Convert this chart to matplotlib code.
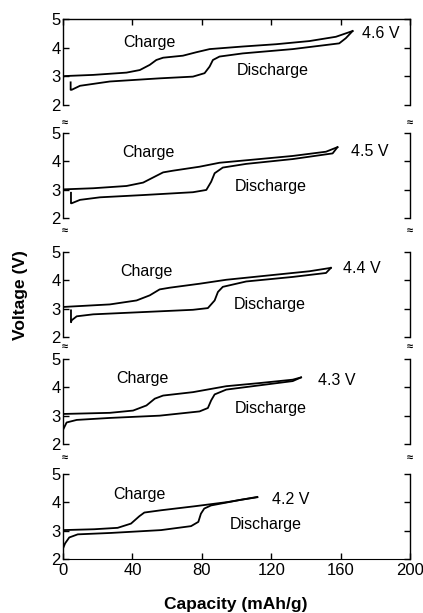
import matplotlib
matplotlib.use("Agg")
import matplotlib.pyplot as plt

plt.rcParams['font.family'] = ['Liberation Sans', 'DejaVu Sans']

# ---------------- data ----------------
cutoff_labels = ["4.6 V", "4.5 V", "4.4 V", "4.3 V", "4.2 V"]

# 4.6 V
charge_cap_46 = [0, 1.1, 17.4, 36.6, 44.3, 50, 53.8, 57.7, 69.1, 76.8, 84.5, 103.6, 122.8, 142, 157.3, 166.9]
charge_v_46   = [2.99, 3.01, 3.05, 3.13, 3.22, 3.40, 3.57, 3.65, 3.72, 3.84, 3.95, 4.04, 4.12, 4.23, 4.38, 4.58]
dis_cap_46 = [166.9, 163, 159.2, 132.4, 103.6, 90.2, 86.4, 84.5, 81.6, 74.9, 55.7, 27, 9.8, 5, 4.4, 4.4]
dis_v_46   = [4.58, 4.33, 4.15, 3.95, 3.80, 3.69, 3.57, 3.34, 3.11, 2.99, 2.93, 2.82, 2.67, 2.53, 2.53, 2.79]

# 4.5 V
charge_cap_45 = [0, 17.4, 36.6, 46.2, 52.9, 57.7, 63.4, 78.7, 90.2, 113.2, 132.4, 151.6, 158.2]
charge_v_45   = [3.01, 3.05, 3.13, 3.25, 3.46, 3.61, 3.67, 3.81, 3.95, 4.08, 4.19, 4.34, 4.50]
dis_cap_45 = [158.2, 155.4, 132.4, 105.6, 92.1, 87.4, 85.4, 82.6, 74.9, 46.2, 21.3, 9.8, 5, 4.6, 4.6]
dis_v_45   = [4.50, 4.28, 4.08, 3.91, 3.78, 3.58, 3.28, 2.99, 2.91, 2.81, 2.73, 2.64, 2.52, 2.52, 2.89]

# 4.4 V
charge_cap_44 = [0, 27, 42.4, 50, 55.7, 61.5, 78.7, 94.1, 122.8, 142, 154.4]
charge_v_44   = [3.06, 3.15, 3.29, 3.47, 3.68, 3.74, 3.88, 4.02, 4.20, 4.32, 4.44]
dis_cap_44 = [154.4, 151.6, 132.4, 105.6, 92.1, 89.3, 87.4, 83.5, 74.9, 46.2, 17.4, 7.9, 5, 4.6, 4.6]
dis_v_44   = [4.44, 4.26, 4.12, 3.96, 3.77, 3.59, 3.29, 3.02, 2.96, 2.88, 2.80, 2.73, 2.59, 2.52, 2.94]

# 4.3 V
charge_cap_43 = [0, 27, 40.4, 48.1, 52.9, 57.7, 74.9, 94.1, 113.2, 132.4, 137.2]
charge_v_43   = [3.06, 3.10, 3.18, 3.36, 3.60, 3.71, 3.83, 4.04, 4.15, 4.27, 4.35]
dis_cap_43 = [137.2, 132.4, 113.2, 94.1, 87.4, 85.4, 83.5, 78.7, 55.7, 27, 7.9, 2.1, 0]
dis_v_43   = [4.35, 4.22, 4.07, 3.92, 3.75, 3.54, 3.27, 3.15, 3.00, 2.92, 2.85, 2.76, 2.50]

# 4.2 V
charge_cap_42 = [0, 18, 31.5, 39.2, 44, 46.9, 56.5, 75.7, 94.9, 112]
charge_v_42   = [3.02, 3.05, 3.10, 3.25, 3.51, 3.64, 3.72, 3.86, 4.01, 4.19]
dis_cap_42 = [112, 102.6, 85.3, 81.4, 79.5, 78, 73.8, 56.5, 27.7, 8.5, 3.6, 1.2, 0.2]
dis_v_42   = [4.18, 4.09, 3.89, 3.78, 3.60, 3.31, 3.16, 3.02, 2.92, 2.87, 2.76, 2.55, 2.40]

charge_caps = [charge_cap_46, charge_cap_45, charge_cap_44, charge_cap_43, charge_cap_42]
charge_vs = [charge_v_46, charge_v_45, charge_v_44, charge_v_43, charge_v_42]
dis_caps = [dis_cap_46, dis_cap_45, dis_cap_44, dis_cap_43, dis_cap_42]
dis_vs = [dis_v_46, dis_v_45, dis_v_44, dis_v_43, dis_v_42]

x_ticks = [0, 40, 80, 120, 160, 200]
y_ticks = [2, 3, 4, 5]

# ---------------- layout ----------------
W, H = 423, 613
fig = plt.figure(figsize=(W / 100, H / 100), dpi=100)

panel_px = [(19, 105), (133, 218), (252, 337), (359, 444), (474, 559)]
left_px, right_px = 63, 410

# label positions (data coords) per panel
charge_pos = [(50, 4.17), (49, 4.31), (48, 4.30), (46, 4.32), (44, 4.29)]
dis_pos = [(121, 3.22), (120, 3.10), (119, 3.16), (120, 3.24), (117, 3.20)]
cut_pos = [(183, 4.51), (177, 4.34), (172, 4.42), (158, 4.23), (131, 4.10)]

for i, (top, bot) in enumerate(panel_px):
    ax = fig.add_axes([left_px / W, 1 - bot / H, (right_px - left_px) / W, (bot - top) / H])
    ax.plot(charge_caps[i], charge_vs[i], color='black', lw=1.3, solid_joinstyle='round')
    ax.plot(dis_caps[i], dis_vs[i], color='black', lw=1.3, solid_joinstyle='round')
    ax.set_xlim(0, 200)
    ax.set_ylim(2, 5)
    ax.set_yticks(y_ticks)
    ax.tick_params(axis='y', direction='in', left=True, right=True, length=4.5, width=1.0,
                   labelsize=12, pad=1.5)
    for s in ['left', 'right']:
        ax.spines[s].set_linewidth(1.0)
    ax.spines['top'].set_visible(i == 0)
    ax.spines['bottom'].set_visible(i == 4)
    ax.spines['top'].set_linewidth(1.0)
    ax.spines['bottom'].set_linewidth(0.8)
    ax.set_xticks(x_ticks)
    if i == 0:
        ax.tick_params(axis='x', direction='in', top=True, bottom=False, labelbottom=False,
                       length=4, width=1.0)
    elif i == 4:
        ax.tick_params(axis='x', direction='in', top=False, bottom=True, labelbottom=True,
                       length=4, width=1.0, labelsize=12, pad=3)
    else:
        ax.tick_params(axis='x', top=False, bottom=False, labelbottom=False)
    ax.text(*charge_pos[i], "Charge", fontsize=11.5, ha='center', va='center')
    ax.text(*dis_pos[i], "Discharge", fontsize=11.5, ha='center', va='center')
    ax.text(*cut_pos[i], cutoff_labels[i], fontsize=11.5, ha='center', va='center')

# axis break marks between panels
for yb in [123, 231, 347, 458]:
    for xb in [65, 410]:
        fig.text(xb / W, 1 - yb / H, "≈", fontsize=8, fontweight='bold',
                 ha='center', va='center')

fig.text(236 / W, 1 - 604 / H, "Capacity (mAh/g)", fontsize=12.5, fontweight='bold',
         ha='center', va='center')
fig.text(20 / W, 1 - 295 / H, "Voltage (V)", fontsize=12.5, fontweight='bold',
         ha='center', va='center', rotation=90)

fig.savefig("out.png", dpi=100)
